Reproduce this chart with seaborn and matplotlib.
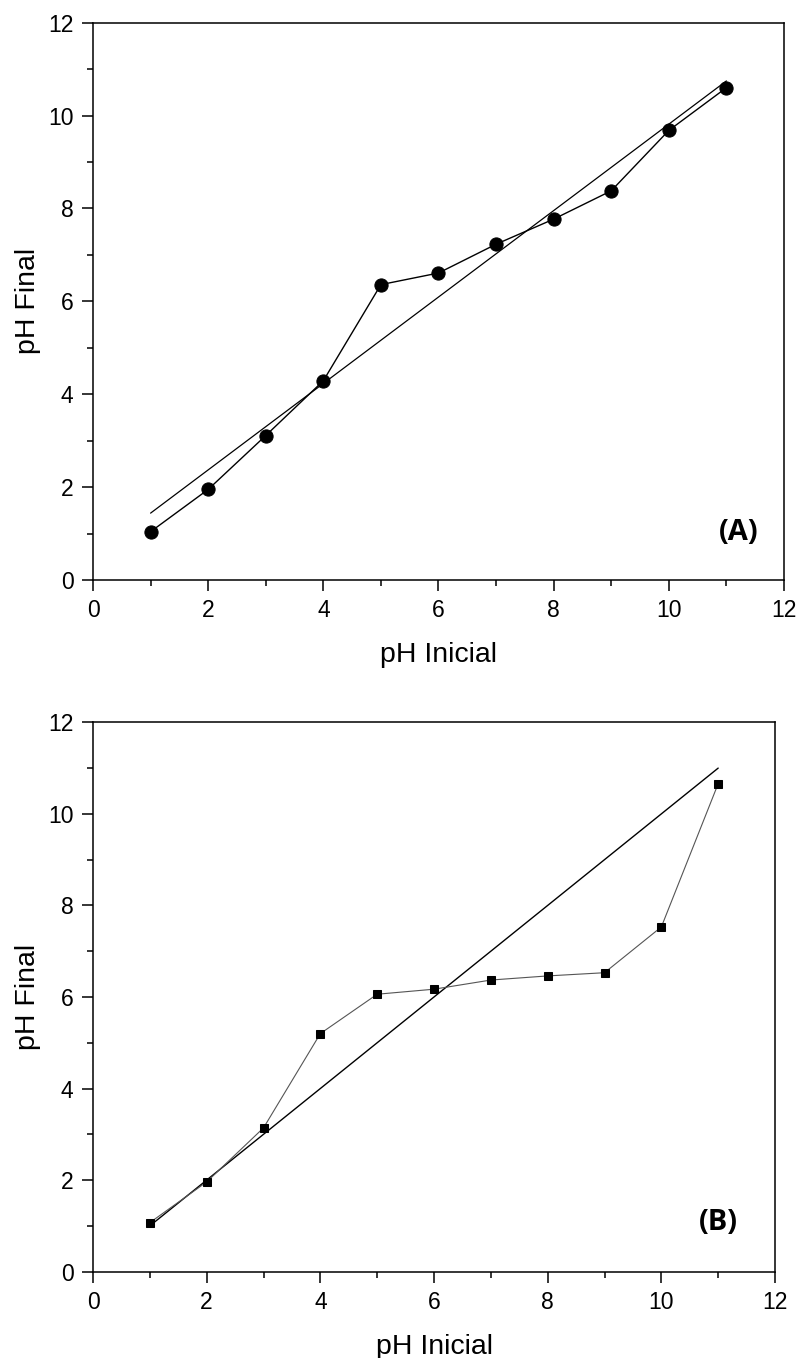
import numpy as np
import pandas as pd
import matplotlib
matplotlib.use("Agg")
import matplotlib.pyplot as plt
import seaborn as sns
from matplotlib.ticker import MultipleLocator

# pH measurements
ph_initial = [1, 2, 3, 4, 5, 6, 7, 8, 9, 10, 11]
ph_final_a = [1.04, 1.95, 3.11, 4.29, 6.36, 6.61, 7.23, 7.77, 8.38, 9.68, 10.60]
ph_final_b = [1.07, 1.96, 3.14, 5.20, 6.06, 6.17, 6.37, 6.46, 6.53, 7.53, 10.66]
ticks = [0, 2, 4, 6, 8, 10, 12]

sns.set_style("ticks")
plt.rcParams["font.family"] = ["Liberation Sans", "DejaVu Sans"]
plt.rcParams["text.color"] = "black"
plt.rcParams["axes.labelcolor"] = "black"

fig = plt.figure(figsize=(7.99, 13.58), dpi=100)
ax_a = fig.add_axes([0.1164, 0.5729, 0.8648, 0.4104])
ax_b = fig.add_axes([0.1164, 0.0636, 0.8536, 0.4045])

df_a = pd.DataFrame({"x": ph_initial, "y": ph_final_a})
df_b = pd.DataFrame({"x": ph_initial, "y": ph_final_b})

# (A): data with least-squares line
slope, intercept = np.polyfit(ph_initial, ph_final_a, 1)
fit_x = np.array([ph_initial[0], ph_initial[-1]])
sns.lineplot(x=fit_x, y=slope * fit_x + intercept, ax=ax_a, color="black", lw=0.9)
sns.lineplot(data=df_a, x="x", y="y", ax=ax_a, color="black", lw=1.0,
             marker="o", markersize=9.5, markeredgecolor="black")

# (B): data with the pH_final = pH_initial line
ident = np.array([ph_initial[0], ph_initial[-1]], dtype=float)
sns.lineplot(x=ident, y=ident, ax=ax_b, color="black", lw=1.0)
sns.lineplot(data=df_b, x="x", y="y", ax=ax_b, color="#555555", lw=0.8,
             marker="s", markersize=6, markerfacecolor="black",
             markeredgecolor="black")

for ax, lab, pos in [(ax_a, "(A)", (0.963, 0.085)), (ax_b, "(B)", (0.945, 0.09))]:
    ax.set_xlim(0, 12)
    ax.set_ylim(0, 12)
    ax.set_xticks(ticks)
    ax.set_yticks(ticks)
    ax.xaxis.set_minor_locator(MultipleLocator(1))
    ax.yaxis.set_minor_locator(MultipleLocator(1))
    ax.tick_params(which="major", direction="out", length=8, width=1.1,
                   labelsize=16.5, colors="black", labelcolor="black", pad=6)
    ax.tick_params(which="minor", direction="out", length=4.5, width=1.1,
                   colors="black")
    for s in ax.spines.values():
        s.set_visible(True)
        s.set_linewidth(1.1)
        s.set_color("black")
    ax.set_xlabel("pH Inicial", fontsize=20.5, labelpad=14, color="black")
    ax.set_ylabel("pH Final", fontsize=20.5, labelpad=5, color="black")
    ax.text(pos[0], pos[1], lab, transform=ax.transAxes, ha="right", va="center",
            fontsize=21, fontweight="bold", color="black",
            family=["Open Sans", "DejaVu Sans"])

fig.savefig("out.png", dpi=100)
